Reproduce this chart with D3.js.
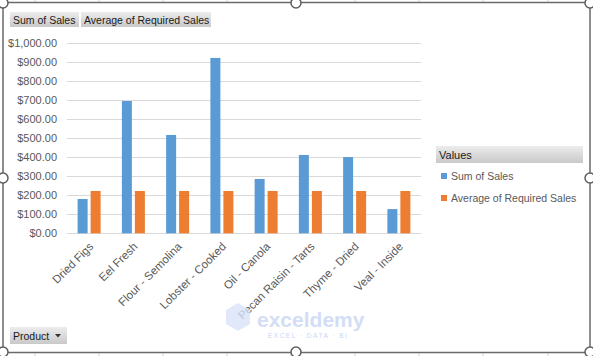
<!DOCTYPE html>
<html><head><meta charset="utf-8">
<script src="https://cdn.jsdelivr.net/npm/d3@7"></script>
<style>
html,body{margin:0;padding:0;background:#fff;}
svg{display:block;font-family:"Liberation Sans",Arial,sans-serif;}
</style></head>
<body>
<svg id="chart" width="593" height="356"></svg>
<script>
const categories = ["Dried Figs","Eel Fresh","Flour - Semolina","Lobster - Cooked","Oil - Canola","Pecan Raisin - Tarts","Thyme - Dried","Veal - Inside"];
const sumOfSales = [180, 694, 516, 920, 285, 411, 400, 127];
const avgRequiredSales = [222, 222, 222, 222, 222, 222, 222, 222];
const seriesNames = ["Sum of Sales","Average of Required Sales"];
const seriesColors = ["#5b9bd5","#ed7d31"];
const yTicks = [0,100,200,300,400,500,600,700,800,900,1000];

const svg = d3.select("#chart");
const W = 593, H = 356;

// outside sheet gridlines
const sheetCols = [35,99,163,227,291,355,419,483,548];
svg.selectAll("line.sheet").data(sheetCols).join("line")
  .attr("x1",d=>d).attr("x2",d=>d).attr("y1",0).attr("y2",H)
  .attr("stroke","#d4d4d4").attr("stroke-width",1);
svg.append("rect").attr("x",3).attr("y",2.5).attr("width",587).attr("height",350)
  .attr("fill","#fff").attr("stroke","#6a6a6a").attr("stroke-width",1.5);

const x = d3.scaleBand().domain(categories).range([67,421]);
const y = d3.scaleLinear().domain([0,1000]).range([233.3,42.7]);
const fmt = d => "$" + d3.format(",.2f")(d);

// gridlines
svg.append("g").selectAll("line").data(yTicks).join("line")
  .attr("x1",67).attr("x2",421)
  .attr("y1",d=>Math.round(y(d))+0.5).attr("y2",d=>Math.round(y(d))+0.5)
  .attr("stroke","#d9d9d9").attr("stroke-width",1);

// y axis labels
const yAxis = d3.axisLeft(y).tickValues(yTicks).tickFormat(fmt).tickSize(0).tickPadding(10);
const gy = svg.append("g").attr("transform","translate(67,0)").call(yAxis);
gy.select(".domain").remove();
gy.selectAll("text").attr("font-size","11px").attr("fill","#595959")
  .attr("font-family","'Liberation Sans',Arial,sans-serif");

// bars
const barW = 10, gap = 3;
const data = categories.map((c,i)=>({c, vals:[sumOfSales[i], avgRequiredSales[i]]}));
const gBars = svg.append("g");
data.forEach(d=>{
  const cx = x(d.c) + x.bandwidth()/2;
  d.vals.forEach((v,j)=>{
    const bx = cx - barW - gap/2 + j*(barW+gap);
    gBars.append("rect").attr("x",bx).attr("width",barW)
      .attr("y",y(v)).attr("height",y(0)-y(v)).attr("fill",seriesColors[j]);
  });
});

// x axis labels
const xAxis = d3.axisBottom(x).tickSize(0).tickPadding(0);
const gx = svg.append("g").attr("transform","translate(0,"+y(0)+")").call(xAxis);
gx.select(".domain").remove();
gx.selectAll("text").attr("font-size","11.5px").attr("fill","#595959")
  .attr("font-family","'Liberation Sans',Arial,sans-serif")
  .attr("text-anchor","end").attr("dy","0")
  .attr("transform","translate(5,14) rotate(-45)");

// field buttons
function button(x0,y0,w,h,label,arrow){
  const g = svg.append("g");
  g.append("rect").attr("x",x0).attr("y",y0).attr("width",w).attr("height",h).attr("fill","url(#btnGrad)");
  g.append("text").attr("x",x0+3).attr("y",y0+h/2+4).attr("font-size","10.5px").attr("fill","#1a1a1a").text(label);
  if(arrow){
    g.append("path").attr("d",`M${x0+w-12},${y0+h/2-1.5} l6,0 l-3,3.5 z`).attr("fill","#333");
  }
}
const defs = svg.append("defs");
const grad = defs.append("linearGradient").attr("id","btnGrad").attr("x1",0).attr("x2",0).attr("y1",0).attr("y2",1);
grad.append("stop").attr("offset","0%").attr("stop-color","#ececec");
grad.append("stop").attr("offset","100%").attr("stop-color","#c9c9c9");

button(10,12,69,15,"Sum of Sales",false);
button(81,12,130,15,"Average of Required Sales",false);
button(10,327,57,17,"Product",true);

// legend
svg.append("rect").attr("x",436).attr("y",146).attr("width",147).attr("height",17).attr("fill","url(#btnGrad)");
svg.append("text").attr("x",439).attr("y",158.5).attr("font-size","11px").attr("fill","#1a1a1a").text("Values");
const lg = svg.append("g").selectAll("g").data(seriesNames).join("g")
  .attr("transform",(d,i)=>`translate(441,${173+i*22})`);
lg.append("rect").attr("width",6).attr("height",6).attr("fill",(d,i)=>seriesColors[i]);
lg.append("text").attr("x",10).attr("y",6.5).attr("font-size","10.5px").attr("fill","#595959").text(d=>d);

// watermark
svg.append("path").attr("d","M226,310 l12,-7 l12,7 l0,14 l-12,7 l-12,-7 z").attr("fill","#d8e2f8").attr("opacity",0.8);
svg.append("text").attr("x",257).attr("y",327).attr("font-size","21px").attr("font-weight","bold")
  .attr("fill","#c9d6f5").attr("opacity",0.8).text("exceldemy");
svg.append("text").attr("x",268).attr("y",338).attr("font-size","6.5px").attr("letter-spacing","1.5")
  .attr("fill","#c9d6f5").text("EXCEL · DATA · BI");

// handles
const handles = [[3,3],[296,3],[590,3],[3,178],[590,178],[3,352],[296,352],[590,352]];
svg.selectAll("circle.h").data(handles).join("circle")
  .attr("cx",d=>d[0]).attr("cy",d=>d[1]).attr("r",5)
  .attr("fill","#fff").attr("stroke","#5f5f5f").attr("stroke-width",1.5);
</script>
</body></html>
